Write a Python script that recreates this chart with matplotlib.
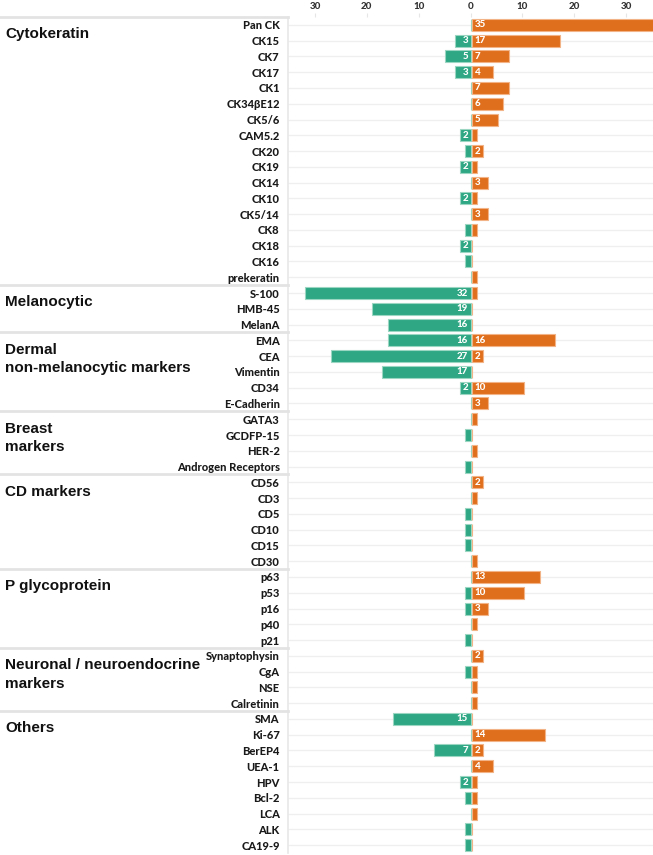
import matplotlib.pyplot as plt
from matplotlib.lines import Line2D
from matplotlib.transforms import blended_transform_factory

# markers per group, top to bottom
groups = ["Cytokeratin", "Melanocytic", "Dermal\nnon-melanocytic markers", "Breast\nmarkers",
          "CD markers", "P glycoprotein", "Neuronal / neuroendocrine\nmarkers", "Others"]
group_sizes = [17, 3, 5, 4, 6, 5, 4, 9]

markers = ["Pan CK", "CK15", "CK7", "CK17", "CK1", "CK34βE12", "CK5/6", "CAM5.2", "CK20", "CK19",
           "CK14", "CK10", "CK5/14", "CK8", "CK18", "CK16", "prekeratin",
           "S-100", "HMB-45", "MelanA",
           "EMA", "CEA", "Vimentin", "CD34", "E-Cadherin",
           "GATA3", "GCDFP-15", "HER-2", "Androgen Receptors",
           "CD56", "CD3", "CD5", "CD10", "CD15", "CD30",
           "p63", "p53", "p16", "p40", "p21",
           "Synaptophysin", "CgA", "NSE", "Calretinin",
           "SMA", "Ki-67", "BerEP4", "UEA-1", "HPV", "Bcl-2", "LCA", "ALK", "CA19-9"]

# left (green) and right (orange) counts
left_vals = [0, 3, 5, 3, 0, 0, 0, 2, 1, 2, 0, 2, 0, 1, 2, 1, 0,
             32, 19, 16,
             16, 27, 17, 2, 0,
             0, 1, 0, 1,
             0, 0, 1, 1, 1, 0,
             0, 1, 1, 0, 1,
             0, 1, 0, 0,
             15, 0, 7, 0, 2, 1, 0, 1, 1]
right_vals = [35, 17, 7, 4, 7, 6, 5, 1, 2, 1, 3, 1, 3, 1, 0, 0, 1,
              1, 0, 0,
              16, 2, 0, 10, 3,
              1, 0, 1, 0,
              2, 1, 0, 0, 0, 1,
              13, 10, 3, 1, 0,
              2, 1, 1, 1,
              0, 14, 2, 4, 1, 1, 1, 0, 0]

xticks = [-30, -20, -10, 0, 10, 20, 30]

GREEN = "#2fa784"
ORANGE = "#df6f1d"
W, H = 653, 855

fig = plt.figure(figsize=(W / 100, H / 100), dpi=100)
n = len(markers)
ax = fig.add_axes([288 / W, 2 / H, 1 - 288 / W, (H - 19) / H])

y = list(range(n))
ax.barh(y, [-v for v in left_vals], height=0.76, color=GREEN, edgecolor="#9bd6c3", linewidth=0.8, zorder=3)
ax.barh(y, right_vals, left=0.35, height=0.76, color=ORANGE, edgecolor="#f2b386", linewidth=0.8, zorder=3)

for i in range(n):
    if left_vals[i] >= 2:
        ax.text(-0.5, i, str(left_vals[i]), ha="right", va="center", color="white",
                fontsize=7, fontweight="black", family="Lato", zorder=4)
    if right_vals[i] >= 2:
        ax.text(0.8, i, str(right_vals[i]), ha="left", va="center", color="white",
                fontsize=7, fontweight="black", family="Lato", zorder=4)

ax.set_xlim(-35.2, 35.2)
ax.set_ylim(n - 0.5, -0.5)
ax.set_yticks(y)
ax.set_yticklabels(markers, fontsize=8, fontweight="black", family="Lato", color="#1a1a1a")
ax.tick_params(axis="y", length=0, pad=6)
ax.xaxis.tick_top()
ax.set_xticks(xticks)
ax.set_xticklabels([str(abs(t)) for t in xticks], fontsize=7, fontweight="black", family="Lato", color="#333333")
ax.tick_params(axis="x", length=3, color="#e6e6e6", pad=1)
for t in y:
    ax.axhline(t, color="#efefef", linewidth=0.9, zorder=1)
for s in ["top", "right", "bottom"]:
    ax.spines[s].set_visible(False)
ax.spines["left"].set_color("#e8e8e8")
ax.spines["left"].set_linewidth(1.2)

# group titles and separators in the label area
trans = blended_transform_factory(fig.transFigure, ax.transData)
start = 0
for name, size in zip(groups, group_sizes):
    fig.add_artist(Line2D([0, 288 / W], [start - 0.5, start - 0.5], transform=trans,
                          color="#e3e3e3", linewidth=2))
    ax.text(5 / W, start + 0.15, name, transform=trans, ha="left", va="top",
            fontsize=11, fontweight="bold", family="Liberation Sans", linespacing=1.4, color="#111111")
    start += size

fig.savefig("out.png", dpi=100)
